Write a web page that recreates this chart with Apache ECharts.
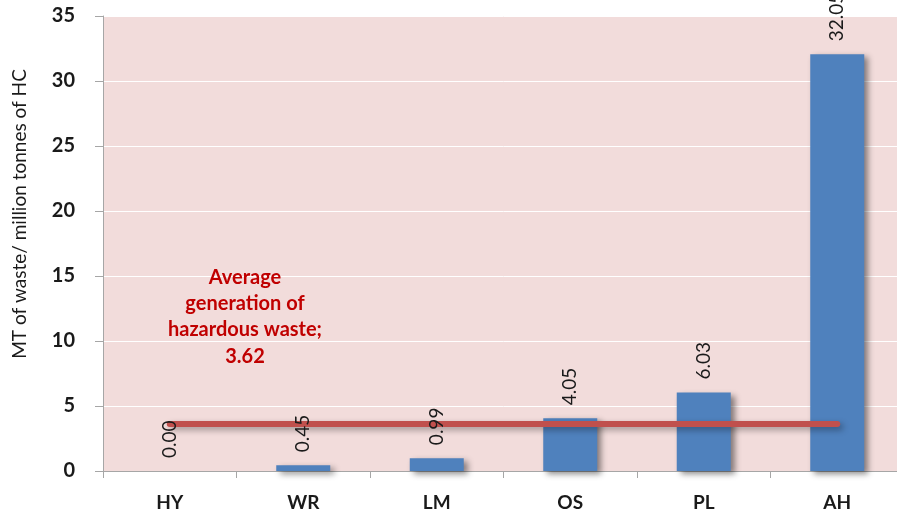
<!DOCTYPE html>
<html>
<head>
<meta charset="utf-8">
<script src="https://cdn.jsdelivr.net/npm/echarts@6/dist/echarts.min.js"></script>
<style>
  html, body { margin: 0; padding: 0; background: #ffffff; overflow: hidden; }
  #chart { width: 904px; height: 513px; }
</style>
</head>
<body>
<div id="chart"></div>
<script>
// Hazardous waste generated per million tonnes of hydrocarbon, by region
const categories = ['HY', 'WR', 'LM', 'OS', 'PL', 'AH'];
const wasteValues = [0.00, 0.45, 0.99, 4.05, 6.03, 32.05];
const averageValue = 3.62;
const yTicks = [0, 5, 10, 15, 20, 25, 30, 35];

const FONT = 'Lato, "Open Sans", "DejaVu Sans", sans-serif';

const chart = echarts.init(document.getElementById('chart'), null, { renderer: 'canvas' });

const valueLabel = {
  show: true,
  position: 'top',
  rotate: 90,
  align: 'left',
  verticalAlign: 'middle',
  distance: 13,
  color: '#1a1a1a',
  fontFamily: FONT,
  fontSize: 19,
  formatter: p => p.value.toFixed(2)
};

chart.setOption({
  animation: false,
  backgroundColor: '#ffffff',
  grid: {
    left: 103, top: 16, bottom: 42, right: 0,
    show: true, backgroundColor: '#F2DCDB', borderWidth: 0
  },
  xAxis: {
    type: 'category',
    data: categories,
    axisLine: { show: true, lineStyle: { color: '#A6A6A6', width: 1 } },
    axisTick: { show: true, length: 7, lineStyle: { color: '#A6A6A6' } },
    axisLabel: { margin: 22, color: '#1a1a1a', fontFamily: FONT, fontWeight: 'bold', fontSize: 19 }
  },
  yAxis: {
    type: 'value',
    min: yTicks[0],
    max: yTicks[yTicks.length - 1],
    interval: 5,
    axisLine: { show: true, lineStyle: { color: '#A6A6A6', width: 1 } },
    axisTick: { show: true, length: 8, lineStyle: { color: '#A6A6A6' } },
    axisLabel: { margin: 28, color: '#1a1a1a', fontFamily: FONT, fontWeight: 'bold', fontSize: 20 },
    splitLine: { show: true, lineStyle: { color: '#ffffff', width: 1 } }
  },
  graphic: [
    {
      type: 'text',
      x: 20, y: 214,
      rotation: Math.PI / 2,
      style: {
        text: 'MT of waste/ million tonnes of HC',
        fill: '#1a1a1a',
        font: '19px ' + FONT,
        align: 'center',
        verticalAlign: 'middle'
      }
    },
    {
      type: 'text',
      x: 245, y: 264,
      z: 10,
      style: {
        text: 'Average\ngeneration of\nhazardous waste;\n3.62',
        fill: '#C00000',
        font: 'bold 20px ' + FONT,
        lineHeight: 26.3,
        align: 'center',
        verticalAlign: 'top'
      }
    }
  ],
  series: [
    {
      type: 'bar',
      data: wasteValues,
      barWidth: 54,
      itemStyle: {
        color: '#4F81BD',
        shadowColor: 'rgba(0,0,0,0.45)',
        shadowBlur: 6,
        shadowOffsetX: 4,
        shadowOffsetY: 3
      },
      z: 2
    },
    {
      type: 'line',
      data: categories.map(() => averageValue),
      symbol: 'none',
      lineStyle: {
        color: '#C0504D',
        width: 6,
        cap: 'round',
        shadowColor: 'rgba(0,0,0,0.35)',
        shadowBlur: 6,
        shadowOffsetX: 3,
        shadowOffsetY: 3
      },
      z: 3
    },
    {
      // invisible twin of the bars that carries the value labels above the average line
      type: 'bar',
      data: wasteValues,
      barWidth: 54,
      barGap: '-100%',
      itemStyle: { color: 'rgba(0,0,0,0)' },
      label: valueLabel,
      silent: true,
      z: 5
    }
  ]
});
</script>
</body>
</html>
